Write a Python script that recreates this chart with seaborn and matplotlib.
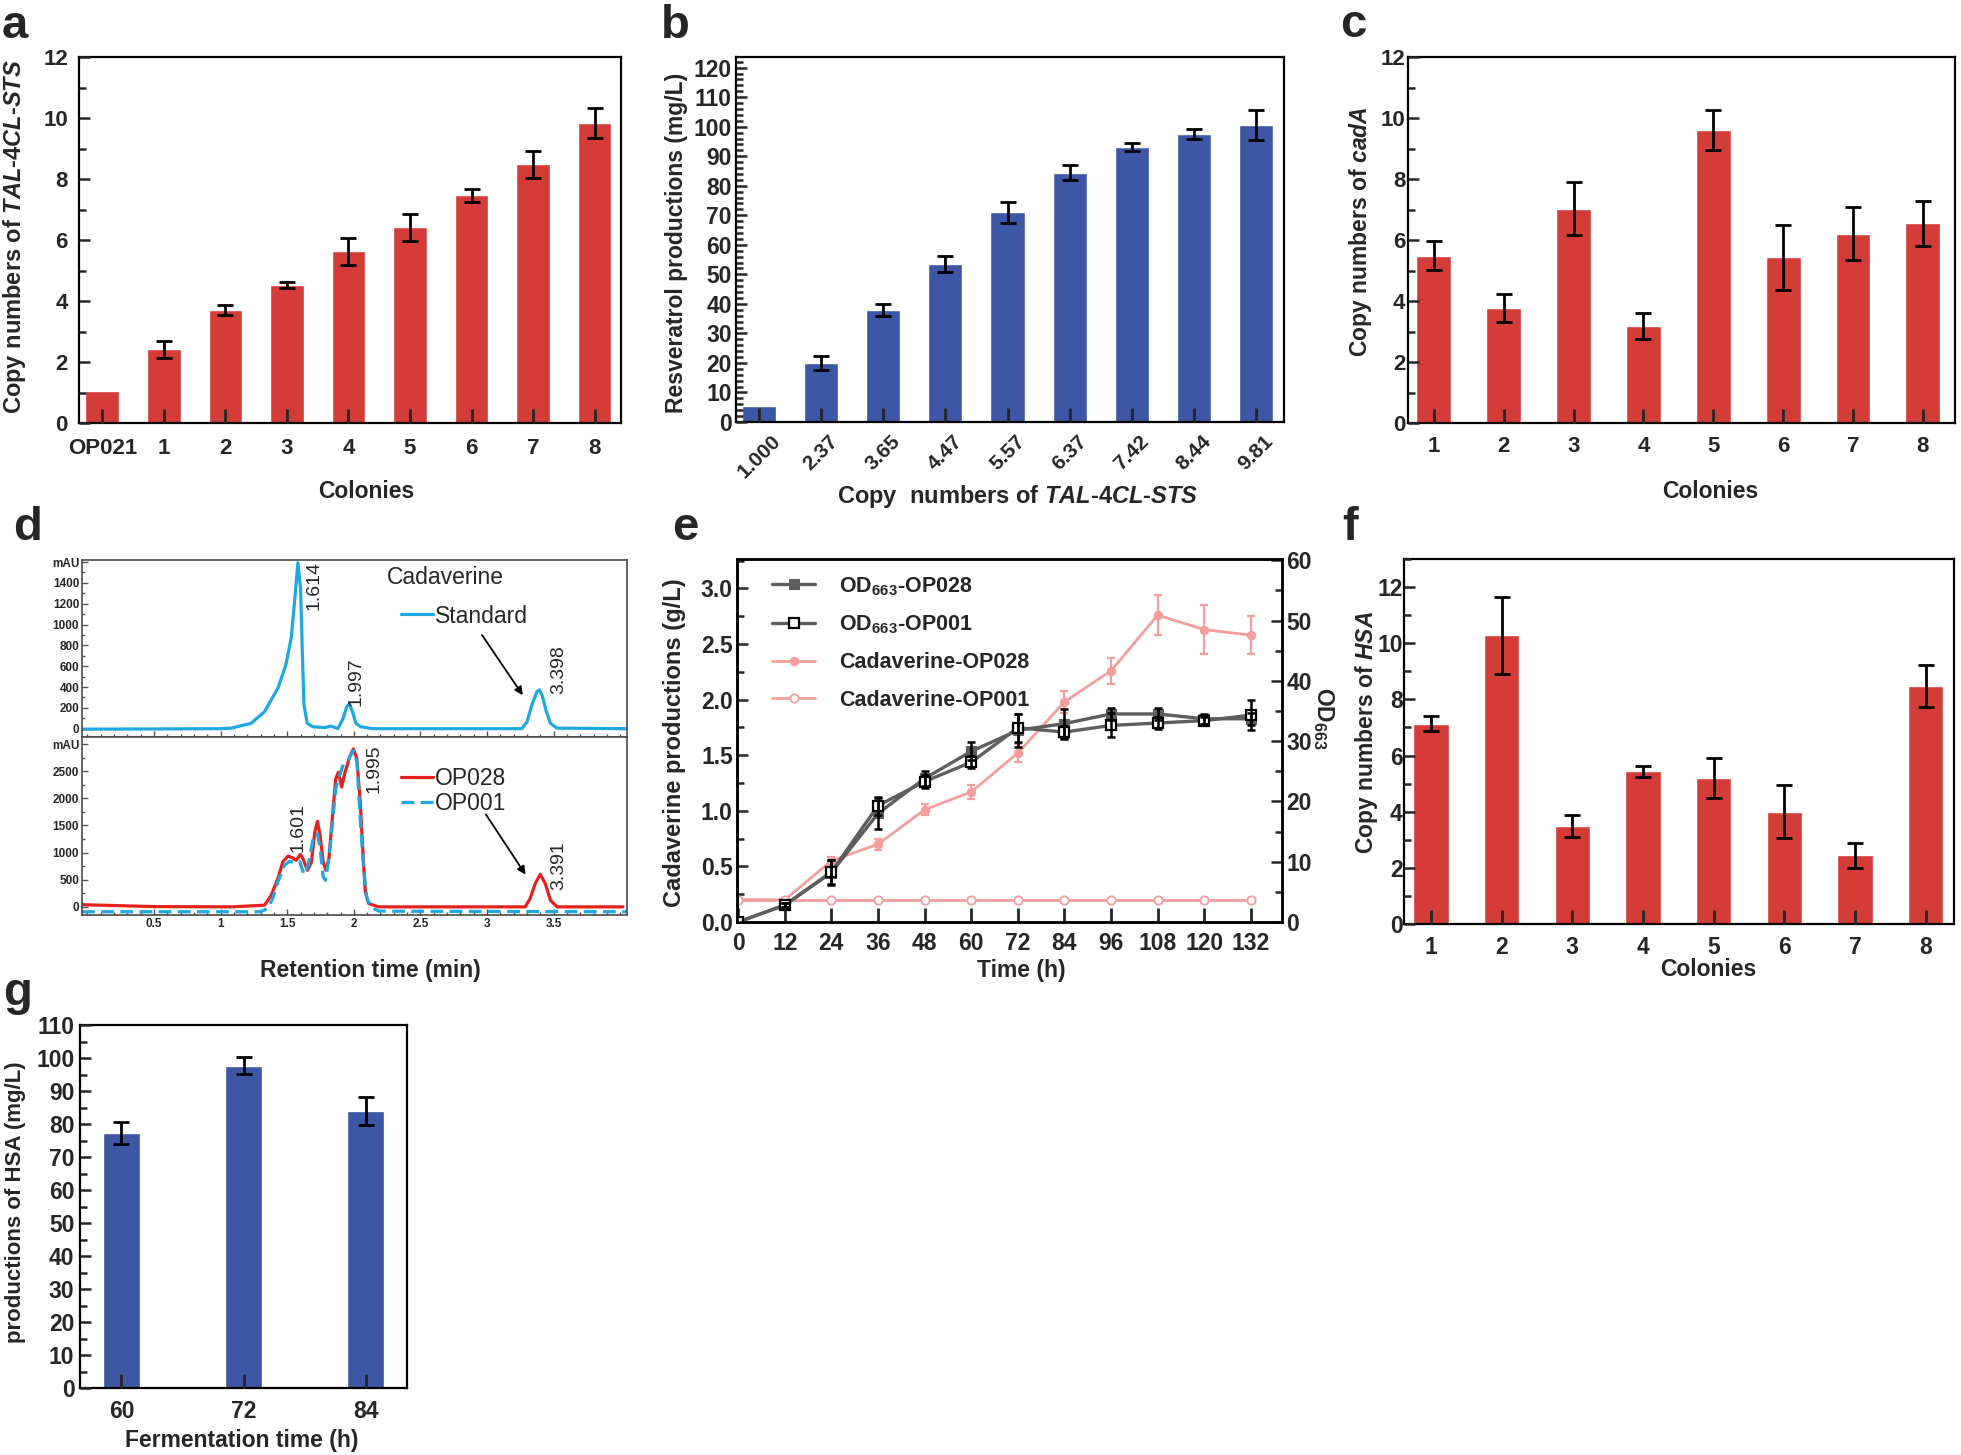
import matplotlib
matplotlib.use("Agg")
import matplotlib.pyplot as plt
import matplotlib.ticker as mticker
import numpy as np
import pandas as pd
import seaborn as sns

sns.set_theme(style="ticks")
plt.rcParams["font.family"] = ["Liberation Sans", "DejaVu Sans"]
plt.rcParams["font.weight"] = "bold"
plt.rcParams["axes.labelweight"] = "bold"
plt.rcParams["mathtext.fontset"] = "custom"
plt.rcParams["mathtext.rm"] = "Liberation Sans:bold"
plt.rcParams["mathtext.it"] = "Liberation Sans:italic:bold"
plt.rcParams["mathtext.bf"] = "Liberation Sans:bold"

# ---------------------------------------------------------------------------
# Data
# ---------------------------------------------------------------------------
# a: copy numbers of TAL-4CL-STS
a_colonies = ["OP021", "1", "2", "3", "4", "5", "6", "7", "8"]
a_copy = [1.05, 2.42, 3.71, 4.51, 5.63, 6.41, 7.46, 8.48, 9.84]
a_err = [0, 0.28, 0.17, 0.10, 0.45, 0.45, 0.22, 0.45, 0.50]

# b: resveratrol vs copy number
b_copies = ["1.000", "2.37", "3.65", "4.47", "5.57", "6.37", "7.42", "8.44", "9.81"]
b_resv = [5.3, 19.9, 38.0, 53.5, 71.0, 84.4, 93.0, 97.5, 100.6]
b_err = [0, 2.3, 2.1, 2.7, 3.6, 2.6, 1.4, 1.8, 5.0]

# c: copy numbers of cadA
c_colonies = ["1", "2", "3", "4", "5", "6", "7", "8"]
c_copy = [5.49, 3.76, 7.03, 3.18, 9.60, 5.43, 6.21, 6.55]
c_err = [0.48, 0.46, 0.88, 0.42, 0.65, 1.07, 0.86, 0.74]

# d: HPLC traces (retention time in min, signal in mAU)
std_t = [-0.04, 1.00, 1.08, 1.23, 1.33, 1.43, 1.49, 1.53, 1.56, 1.58, 1.60, 1.614,
         1.626, 1.65, 1.69, 1.78, 1.83, 1.88, 1.92, 1.947, 1.967, 1.99, 2.015, 2.05,
         2.14, 3.26, 3.30, 3.336, 3.374, 3.392, 3.412, 3.445, 3.475, 3.525, 4.05]
std_mau = [-5, 0, 5, 52, 164, 389, 613, 870, 1288, 1593, 1352, 710,
           228, 52, 19, 10, 25, 0, 100, 212, 238, 164, 52, 19,
           0, 0, 67, 228, 356, 372, 325, 164, 52, 5, 0]

op028_t = [-0.04, 0.5, 1.08, 1.33, 1.38, 1.43, 1.467, 1.505, 1.543, 1.568, 1.598,
           1.618, 1.652, 1.682, 1.707, 1.727, 1.747, 1.77, 1.79, 1.813, 1.838, 1.864,
           1.884, 1.909, 1.934, 1.972, 1.997, 2.023, 2.048, 2.068, 2.086, 2.111,
           2.187, 3.286, 3.323, 3.361, 3.399, 3.437, 3.475, 3.525, 4.02]
op028_mau = [40, 5, 0, 31, 215, 521, 827, 937, 901, 858, 968,
             889, 674, 827, 1378, 1575, 1317, 827, 674, 889, 1624, 2359,
             2481, 2206, 2481, 2788, 2911, 2727, 1930, 1011, 276, 62,
             0, 0, 152, 429, 600, 429, 123, 0, 0]

op001_t = [-0.04, 1.30, 1.353, 1.391, 1.429, 1.48, 1.518, 1.556, 1.593, 1.626,
           1.657, 1.694, 1.727, 1.747, 1.77, 1.788, 1.813, 1.838, 1.864, 1.889,
           1.922, 1.96, 1.997, 2.023, 2.048, 2.073, 2.098, 2.136, 2.19, 4.05]
op001_mau = [-90, -90, -31, 153, 459, 766, 840, 815, 840, 594,
             766, 1256, 1348, 1073, 551, 490, 889, 1501, 2175, 2389,
             2634, 2715, 2880, 2665, 1624, 705, 153, -18, -80, -90]

# e: fermentation time course
e_time = [0, 12, 24, 36, 48, 60, 72, 84, 96, 108, 120, 132]
cad_op028 = [0.20, 0.20, 0.55, 0.70, 1.01, 1.17, 1.52, 1.98, 2.26, 2.76, 2.63, 2.58]
cad_op028_err = [0, 0, 0.035, 0.05, 0.05, 0.065, 0.08, 0.10, 0.115, 0.18, 0.22, 0.17]
cad_op001 = [0.20, 0.20, 0.20, 0.20, 0.20, 0.20, 0.20, 0.20, 0.20, 0.20, 0.20, 0.20]
od_op028 = [0, 2.8, 8.2, 18.0, 23.8, 28.3, 31.8, 32.9, 34.5, 34.5, 33.7, 33.7]
od_op028_err = [0, 0.3, 2.0, 2.6, 1.2, 1.5, 2.7, 2.5, 1.0, 1.0, 0.8, 1.0]
od_op001 = [0, 2.8, 8.3, 19.3, 23.3, 26.5, 32.2, 31.5, 32.6, 33.0, 33.4, 34.3]
od_op001_err = [0, 0.3, 2.0, 1.5, 1.0, 1.0, 2.3, 1.0, 2.0, 1.0, 0.6, 2.5]

# f: copy numbers of HSA
f_colonies = ["1", "2", "3", "4", "5", "6", "7", "8"]
f_copy = [7.14, 10.28, 3.49, 5.44, 5.20, 4.00, 2.44, 8.49]
f_err = [0.28, 1.37, 0.40, 0.20, 0.72, 0.95, 0.43, 0.75]

# g: HSA production
g_time = ["60", "72", "84"]
g_hsa = [77.2, 97.7, 84.0]
g_err = [3.4, 2.5, 4.2]

RED = "#d33c37"
BLUE = "#3e56a6"
CYAN = "#1ea7e1"
TRACE_RED = "#e4211c"
GRAY = "#5e5e5e"
PINK = "#f39d9d"

TICK_FS = 16
LABEL_FS = 16.5

W, H = 1961, 1455
fig = plt.figure(figsize=(W / 100, H / 100), dpi=100)


def px_axes(l, t, r, b):
    return fig.add_axes([l / W, 1 - b / H, (r - l) / W, (b - t) / H])


def frame(ax, lw=1.6, color="black"):
    for s in ax.spines.values():
        s.set_visible(True)
        s.set_linewidth(lw)
        s.set_color(color)


def put_xlabel(ax, text, x, y, size=LABEL_FS):
    ax.set_xlabel(text, fontsize=size, fontweight="bold", va="center", ha="center")
    ax.xaxis.set_label_coords(x / W, 1 - y / H, transform=fig.transFigure)


def put_ylabel(ax, text, x, y, size=LABEL_FS, rotation=90):
    ax.set_ylabel(text, fontsize=size, fontweight="bold", va="center", ha="center",
                  rotation=rotation)
    ax.yaxis.set_label_coords(x / W, 1 - y / H, transform=fig.transFigure)


def bar_panel(ax, cats, vals, errs, color, width, xpad):
    df = pd.DataFrame({"cat": cats, "val": vals})
    sns.barplot(data=df, x="cat", y="val", color=color, width=width,
                saturation=1, errorbar=None, ax=ax)
    pos = np.arange(len(cats))
    err = np.asarray(errs, dtype=float)
    has = err > 0
    ax.errorbar(pos[has], np.asarray(vals)[has], yerr=err[has], fmt="none",
                ecolor="black", elinewidth=2.0, capsize=5.5, capthick=2.0, zorder=3)
    ax.set_axisbelow(False)
    ax.tick_params(axis="x", direction="in", length=10, width=2, labelsize=TICK_FS, pad=xpad)
    ax.tick_params(axis="y", which="both", direction="in", width=1.8, labelsize=TICK_FS)
    ax.tick_params(axis="y", which="major", length=8)
    ax.tick_params(axis="y", which="minor", length=5)
    frame(ax)


def panel_letter(letter, x, y):
    fig.text(x / W, 1 - y / H, letter, fontsize=34, fontweight="bold", va="baseline")


# ---------------------------------------------------------------------------
# a
# ---------------------------------------------------------------------------
ax_a = px_axes(79, 57, 621, 423)
bar_panel(ax_a, a_colonies, a_copy, a_err, RED, 0.55, 11)
ax_a.set_xlim(-0.38, 8.43)
ax_a.set_ylim(0, 12)
ax_a.yaxis.set_major_locator(mticker.MultipleLocator(2))
ax_a.yaxis.set_minor_locator(mticker.MultipleLocator(1))
ax_a.tick_params(axis="y", pad=8)
put_xlabel(ax_a, "Colonies", 366, 492)
put_ylabel(ax_a, r"Copy numbers of $\mathit{TAL}$-$\mathit{4CL}$-$\mathit{STS}$", 15, 237, 17)
panel_letter("a", 2, 38)

# ---------------------------------------------------------------------------
# b
# ---------------------------------------------------------------------------
ax_b = px_axes(736, 57, 1284, 422)
bar_panel(ax_b, b_copies, b_resv, b_err, BLUE, 0.55, 7)
ax_b.set_xlim(-0.37, 8.45)
ax_b.set_ylim(0, 123.6)
ax_b.yaxis.set_major_locator(mticker.MultipleLocator(10))
ax_b.yaxis.set_minor_locator(mticker.MultipleLocator(2))
ax_b.tick_params(axis="y", pad=3, labelsize=16.5)
ax_b.tick_params(axis="x", labelrotation=45, labelsize=15)
put_xlabel(ax_b, r"Copy  numbers of $\mathit{TAL}$-$\mathit{4CL}$-$\mathit{STS}$", 1018, 497, 17)
put_ylabel(ax_b, "Resveratrol productions (mg/L)", 677, 243, 16.5)
panel_letter("b", 661, 38)

# ---------------------------------------------------------------------------
# c
# ---------------------------------------------------------------------------
ax_c = px_axes(1408, 57, 1955, 423)
bar_panel(ax_c, c_colonies, c_copy, c_err, RED, 0.5, 9)
ax_c.set_xlim(-0.37, 7.46)
ax_c.set_ylim(0, 12)
ax_c.yaxis.set_major_locator(mticker.MultipleLocator(2))
ax_c.yaxis.set_minor_locator(mticker.MultipleLocator(1))
ax_c.tick_params(axis="y", pad=2)
put_xlabel(ax_c, "Colonies", 1710, 492)
put_ylabel(ax_c, r"Copy numbers of $\mathit{cadA}$", 1360, 232)
panel_letter("c", 1340, 37)

# ---------------------------------------------------------------------------
# d: chromatograms
# ---------------------------------------------------------------------------
ax_dt = px_axes(82, 560, 627, 737)
ax_db = px_axes(82, 737, 627, 915)

sns.lineplot(x=std_t, y=std_mau, color=CYAN, lw=2.3, sort=False, ax=ax_dt)
std_line = ax_dt.lines[-1]
sns.lineplot(x=op028_t, y=op028_mau, color=TRACE_RED, lw=2.3, sort=False, ax=ax_db)
red_line = ax_db.lines[-1]
sns.lineplot(x=op001_t, y=op001_mau, color=CYAN, lw=2.3, sort=False, ax=ax_db)
blue_line = ax_db.lines[-1]
blue_line.set_dashes((4, 2))

for ax, top, yt, ylab in [
    (ax_dt, 1620, [0, 200, 400, 600, 800, 1000, 1200, 1400, 1600],
     ["0", "200", "400", "600", "800", "1000", "1200", "1400", "mAU"]),
    (ax_db, 3130, [0, 500, 1000, 1500, 2000, 2500, 3000],
     ["0", "500", "1000", "1500", "2000", "2500", "mAU"]),
]:
    ax.set_xlim(-0.04, 4.05)
    ax.set_ylim(-150 if ax is ax_db else -80, top)
    ax.set_yticks(yt, ylab)
    ax.set_xticks([0.5, 1, 1.5, 2, 2.5, 3, 3.5], ["0.5", "1", "1.5", "2", "2.5", "3", "3.5"])
    ax.xaxis.set_minor_locator(mticker.MultipleLocator(0.1))
    ax.yaxis.set_minor_locator(mticker.MultipleLocator(100 if ax is ax_dt else 250))
    ax.tick_params(axis="both", which="both", direction="in", labelsize=8.5, width=1,
                   color="#555555")
    ax.tick_params(axis="both", which="major", length=4, pad=2)
    ax.tick_params(axis="both", which="minor", length=2)
    ax.set_xlabel("")
    ax.set_ylabel("")
    frame(ax, lw=1.2, color="#4a4a4a")

ax_dt.text(2.69, 1451, "Cadaverine", fontsize=16.5, fontweight="normal", ha="center", va="center")
ax_dt.legend([std_line], ["Standard"], loc="center left",
             bbox_to_anchor=(401 / W, 1 - 616 / H), bbox_transform=fig.transFigure,
             frameon=False, handlelength=1.4, handletextpad=0.1, borderpad=0,
             borderaxespad=0, prop=dict(size=16.5, weight="normal"))
ax_db.legend([red_line, blue_line], ["OP028", "OP001"], loc="center left",
             bbox_to_anchor=(401 / W, 1 - 791 / H), bbox_transform=fig.transFigure,
             frameon=False, handlelength=1.4, handletextpad=0.1, borderpad=0,
             borderaxespad=0, labelspacing=0.1, prop=dict(size=16.5, weight="normal"))

arrow = dict(arrowstyle="-|>", color="black", lw=1.3, mutation_scale=12)
ax_dt.annotate("", xy=(3.28, 299), xytext=(2.95, 922), arrowprops=arrow)
ax_db.annotate("", xy=(3.30, 551), xytext=(2.98, 1746), arrowprops=arrow)

peak_kw = dict(rotation=90, ha="center", va="center", fontsize=14, fontweight="normal")
ax_dt.text(1.70, 1374, "1.614", **peak_kw)
ax_dt.text(2.02, 450, "1.997", **peak_kw)
ax_dt.text(3.54, 565, "3.398", **peak_kw)
ax_db.text(1.58, 1470, "1.601", **peak_kw)
ax_db.text(2.15, 2549, "1.995", **peak_kw)
ax_db.text(3.54, 766, "3.391", **peak_kw)
put_xlabel(ax_db, "Retention time (min)", 370, 970)
panel_letter("d", 13, 540)

# ---------------------------------------------------------------------------
# e: time course
# ---------------------------------------------------------------------------
ax_e = px_axes(737, 559, 1282, 922)
ax_r = ax_e.twinx()

ax_e.errorbar(e_time[2:], cad_op028[2:], yerr=cad_op028_err[2:], fmt="none",
              ecolor=PINK, elinewidth=1.6, capsize=3, capthick=1.6)
sns.lineplot(x=e_time, y=cad_op028, color=PINK, lw=2, marker="o", markersize=6,
             markeredgecolor=PINK, ax=ax_e)
h_c28 = ax_e.lines[-1]
sns.lineplot(x=e_time, y=cad_op001, color=PINK, lw=2, marker="o", markersize=6,
             markerfacecolor="white", markeredgecolor=PINK, markeredgewidth=1.3, ax=ax_e)
h_c01 = ax_e.lines[-1]

sns.lineplot(x=e_time, y=od_op028, color=GRAY, lw=2.4, marker="s", markersize=6.5,
             markeredgecolor=GRAY, ax=ax_r)
h_o28 = ax_r.lines[-1]
sns.lineplot(x=e_time, y=od_op001, color=GRAY, lw=2.4, marker="s", markersize=6.5,
             markerfacecolor="white", markeredgecolor="black", markeredgewidth=1.6, ax=ax_r)
h_o01 = ax_r.lines[-1]
ax_r.errorbar(e_time[1:], od_op028[1:], yerr=od_op028_err[1:], fmt="none",
              ecolor="black", elinewidth=1.8, capsize=3, capthick=1.8)
ax_r.errorbar(e_time[1:], od_op001[1:], yerr=od_op001_err[1:], fmt="none",
              ecolor="black", elinewidth=1.8, capsize=3, capthick=1.8)

ax_e.set_xlim(-0.3, 140)
ax_e.set_ylim(0, 3.265)
ax_r.set_ylim(0, 60.2)
ax_e.set_xticks(e_time)
ax_e.yaxis.set_major_locator(mticker.MultipleLocator(0.5))
ax_e.yaxis.set_minor_locator(mticker.MultipleLocator(0.25))
ax_e.yaxis.set_major_formatter(mticker.FormatStrFormatter("%.1f"))
ax_r.yaxis.set_major_locator(mticker.MultipleLocator(10))
ax_r.yaxis.set_minor_locator(mticker.MultipleLocator(5))
ax_e.tick_params(axis="x", direction="in", length=10, width=2, labelsize=16.5, pad=7)
ax_e.tick_params(axis="y", which="both", direction="in", width=1.8, labelsize=16.5, pad=3)
ax_e.tick_params(axis="y", which="major", length=8)
ax_e.tick_params(axis="y", which="minor", length=5)
ax_r.tick_params(axis="y", which="both", direction="in", width=1.8, labelsize=16.5, pad=3)
ax_r.tick_params(axis="y", which="major", length=8)
ax_r.tick_params(axis="y", which="minor", length=5)
frame(ax_e, lw=1.8)
frame(ax_r, lw=1.8)
put_xlabel(ax_e, "Time (h)", 1021, 970)
put_ylabel(ax_e, "Cadaverine productions (g/L)", 675, 743, 17)
put_ylabel(ax_r, r"OD$_{663}$", 1323, 718, rotation=270)

leg_e = ax_r.legend([h_o28, h_o01, h_c28, h_c01],
                    [r"OD$_{663}$-OP028", r"OD$_{663}$-OP001",
                     "Cadaverine-OP028", "Cadaverine-OP001"],
                    loc="upper left", bbox_to_anchor=(772 / W, 1 - 575 / H),
                    bbox_transform=fig.transFigure, frameon=False, handlelength=2.0,
                    handletextpad=1.1, borderpad=0, borderaxespad=0, labelspacing=0.75,
                    prop=dict(size=15.5, weight="bold"))
if ax_e.get_legend() is not None:
    ax_e.get_legend().remove()
panel_letter("e", 672, 540)

# ---------------------------------------------------------------------------
# f
# ---------------------------------------------------------------------------
ax_f = px_axes(1404, 559, 1954, 924)
bar_panel(ax_f, f_colonies, f_copy, f_err, RED, 0.5, 9)
ax_f.set_xlim(-0.38, 7.4)
ax_f.set_ylim(0, 13)
ax_f.yaxis.set_major_locator(mticker.MultipleLocator(2))
ax_f.yaxis.set_minor_locator(mticker.MultipleLocator(1))
ax_f.tick_params(axis="y", pad=1, labelsize=16.5)
ax_f.tick_params(axis="x", labelsize=16.5)
put_xlabel(ax_f, "Colonies", 1708, 970)
put_ylabel(ax_f, r"Copy numbers of $\mathit{HSA}$", 1366, 732)
panel_letter("f", 1342, 540)

# ---------------------------------------------------------------------------
# g
# ---------------------------------------------------------------------------
ax_g = px_axes(80, 1025, 407, 1388)
bar_panel(ax_g, g_time, g_hsa, g_err, BLUE, 0.3, 9)
ax_g.set_xlim(-0.34, 2.34)
ax_g.set_ylim(0, 110)
ax_g.yaxis.set_major_locator(mticker.MultipleLocator(10))
ax_g.yaxis.set_minor_locator(mticker.MultipleLocator(5))
ax_g.tick_params(axis="y", pad=4)
ax_g.tick_params(axis="both", labelsize=16.5)
put_xlabel(ax_g, "Fermentation time (h)", 242, 1440)
put_ylabel(ax_g, "productions of HSA (mg/L)", 16, 1202, 16)
panel_letter("g", 3, 1005)

fig.savefig("out.png", dpi=100)
